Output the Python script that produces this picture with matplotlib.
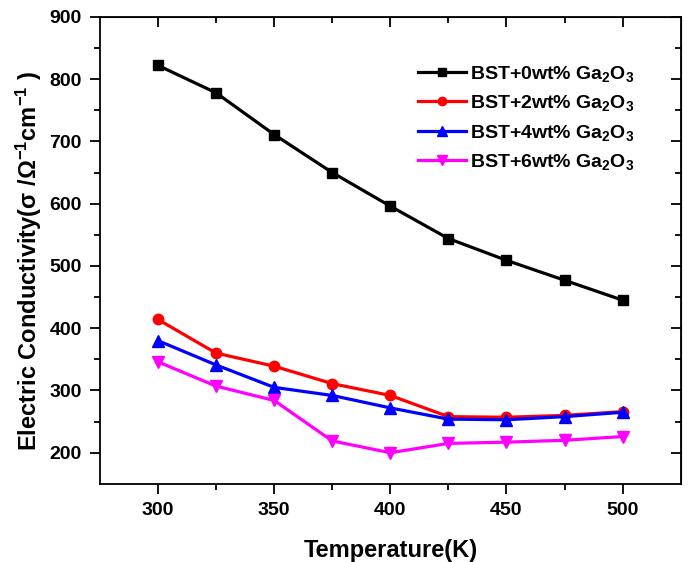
import matplotlib.pyplot as plt
import numpy as np

plt.rcParams['font.family'] = ['Liberation Sans', 'DejaVu Sans']
plt.rcParams['font.weight'] = 'bold'
plt.rcParams['mathtext.fontset'] = 'custom'
plt.rcParams['mathtext.rm'] = 'Liberation Sans'
plt.rcParams['mathtext.it'] = 'Liberation Sans'
plt.rcParams['mathtext.bf'] = 'Liberation Sans:bold'

temperature = [300, 325, 350, 375, 400, 425, 450, 475, 500]
bst0 = [822, 778, 711, 650, 596, 544, 509, 477, 445]
bst2 = [414, 360, 339, 311, 292, 258, 257, 260, 266]
bst4 = [380, 341, 305, 292, 272, 254, 253, 258, 265]
bst6 = [346, 307, 284, 219, 200, 215, 217, 220, 226]

labels = [r"BST+0wt% Ga$_\mathbf{2}$O$_\mathbf{3}$", r"BST+2wt% Ga$_\mathbf{2}$O$_\mathbf{3}$",
          r"BST+4wt% Ga$_\mathbf{2}$O$_\mathbf{3}$", r"BST+6wt% Ga$_\mathbf{2}$O$_\mathbf{3}$"]

fig = plt.figure(figsize=(6.89, 5.62), dpi=100)
ax = fig.add_axes([0.145, 0.139, 0.843, 0.831])

ax.plot(temperature, bst0, color="black", marker="s", ms=6.5, lw=2.3, label=labels[0])
ax.plot(temperature, bst2, color="red", marker="o", ms=7.5, lw=2.3, label=labels[1])
ax.plot(temperature, bst4, color="blue", marker="^", ms=8.5, lw=2.3, label=labels[2])
ax.plot(temperature, bst6, color="magenta", marker="v", ms=8.5, lw=2.3, label=labels[3])

ax.set_xlim(275, 525)
ax.set_ylim(150, 900)
ax.set_xticks([300, 350, 400, 450, 500])
ax.set_xticks([325, 375, 425, 475], minor=True)
ax.set_yticks([200, 300, 400, 500, 600, 700, 800, 900])
ax.set_yticks([250, 350, 450, 550, 650, 750, 850], minor=True)
ax.tick_params(which="major", direction="out", length=7, width=1.3, labelsize=14, pad=6)
ax.tick_params(which="minor", direction="out", length=4, width=1.3)
for s in ax.spines.values():
    s.set_linewidth(1.3)

# inward ticks on top and right
top = ax.secondary_xaxis("top")
top.set_xticks([300, 350, 400, 450, 500])
top.set_xticks([325, 375, 425, 475], minor=True)
top.tick_params(which="major", direction="in", length=7, width=1.3, labeltop=False)
top.tick_params(which="minor", direction="in", length=4, width=1.3)
right = ax.secondary_yaxis("right")
right.set_yticks([200, 300, 400, 500, 600, 700, 800, 900])
right.set_yticks([250, 350, 450, 550, 650, 750, 850], minor=True)
right.tick_params(which="major", direction="in", length=7, width=1.3, labelright=False)
right.tick_params(which="minor", direction="in", length=4, width=1.3)

ax.set_xlabel("Temperature(K)", fontsize=17, fontweight="bold")
ax.xaxis.set_label_coords(0.5, -0.117)
ax.set_ylabel(r"Electric Conductivity($\mathrm{σ}$ /$\mathrm{Ω}^{\mathbf{-1}}$cm$^{\mathbf{-1}}$ )",
              fontsize=17, fontweight="bold")
ax.yaxis.set_label_coords(-0.097, 0.477)

ax.legend(loc="upper left", bbox_to_anchor=(0.531, 0.92), frameon=False, borderpad=0,
          fontsize=14, handlelength=2.45, labelspacing=0.48, handletextpad=0.2,
          markerscale=0.8)

fig.savefig("out.png", dpi=100)
